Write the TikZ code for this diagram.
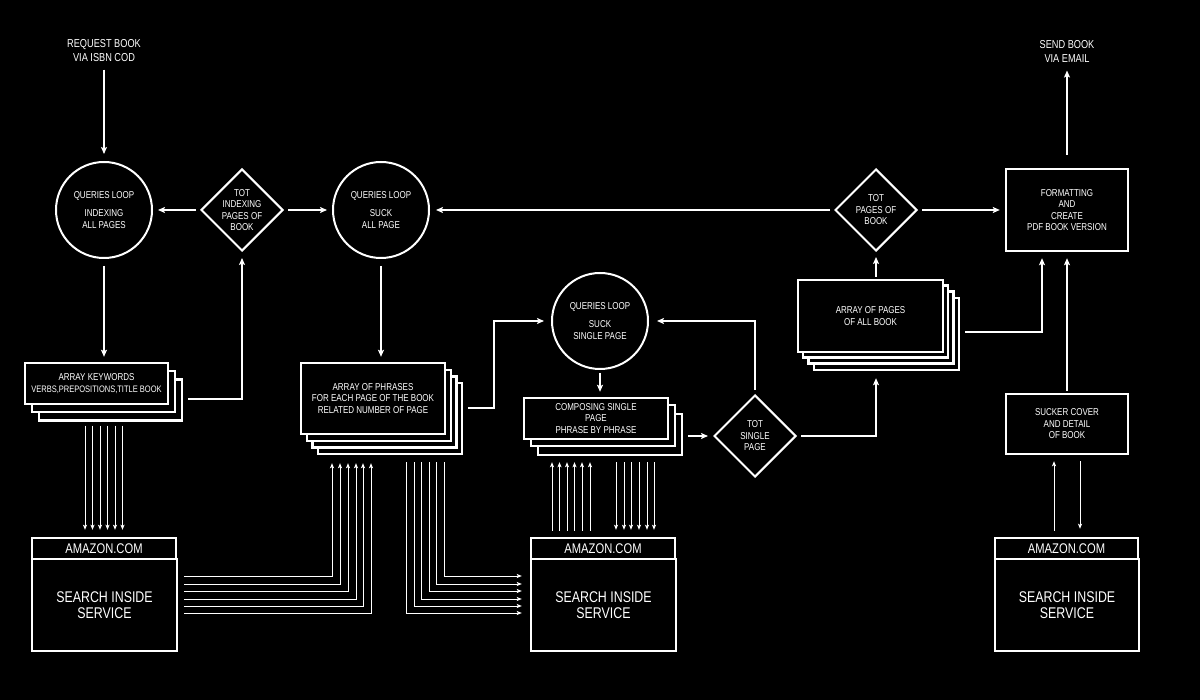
\documentclass[tikz,border=0pt]{standalone}
\usepackage{fontspec}
\setmainfont{Liberation Sans}[FakeStretch=0.8]
\usetikzlibrary{shapes.geometric,arrows.meta,calc}
\begin{document}
\begin{tikzpicture}[x=1pt,y=-1pt,
  every node/.style={text=white, font=\fontsize{10}{11.5}\selectfont, align=center},
  box/.style={draw=white, line width=2.4pt, fill=black, rectangle, inner sep=0pt},
  circ/.style={draw=white, line width=2pt, fill=black, circle, minimum size=96pt, inner sep=0pt},
  dia/.style={draw=white, line width=2pt, fill=black, diamond, minimum width=82pt, minimum height=82pt, inner sep=-4pt},
  lbl/.style={font=\fontsize{11.5}{14}\selectfont},
  big/.style={font=\fontsize{15.5}{16}\selectfont},
  hdr/.style={font=\fontsize{14}{16}\selectfont},
  conn/.style={draw=white, line width=2pt, -{Stealth[length=7pt,width=6pt,inset=1.5pt]}, shorten >=5pt, shorten <=4pt},
  tconn/.style={draw=white, line width=0.9pt, -{Stealth[length=5pt,width=4pt,inset=1pt]}, shorten >=6pt, shorten <=6pt},
]
\useasboundingbox (0,0) rectangle (1200,700);
\fill[black] (0,0) rectangle (1200,700);

% top labels
\node[lbl] (req) at (104,51) {REQUEST BOOK\\VIA ISBN COD};
\node[lbl] (send) at (1067,51) {SEND BOOK\\VIA EMAIL};

% circles
\node[circ] (c1) at (104,210) {QUERIES LOOP\\[7pt]INDEXING\\ALL PAGES};
\node[circ] (c2) at (381,210) {QUERIES LOOP\\[7pt]SUCK\\ALL PAGE};
\node[circ] (c3) at (600,321) {QUERIES LOOP\\[7pt]SUCK\\SINGLE PAGE};

% diamonds
\node[dia] (d1) at (242,210) {TOT\\INDEXING\\PAGES OF\\BOOK};
\node[dia] (d2) at (876,210) {TOT\\PAGES OF\\BOOK};
\node[dia] (d3) at (755,436) {TOT\\SINGLE\\PAGE};

% rectangles
\node[box, minimum width=122pt, minimum height=82pt] (fmt) at (1067,210) {FORMATTING\\AND\\CREATE\\PDF BOOK VERSION};
\node[box, minimum width=122pt, minimum height=60pt] (suck) at (1067,424) {SUCKER COVER\\AND DETAIL\\OF BOOK};

% stack: keywords
\node[box, minimum width=143pt, minimum height=41pt] (kwb2) at (110.5,400) {};
\node[box, minimum width=143pt, minimum height=41pt] (kwb1) at (103.5,391.5) {};
\node[box, minimum width=143pt, minimum height=41pt] (kw) at (96.5,383.5) {ARRAY KEYWORDS\\{\fontsize{9.4}{11.5}\selectfont VERBS,PREPOSITIONS,TITLE BOOK}};

% stack: phrases
\node[box, minimum width=144pt, minimum height=71pt] (phb3) at (390,418.5) {};
\node[box, minimum width=144pt, minimum height=71pt] (phb2) at (384.5,412) {};
\node[box, minimum width=144pt, minimum height=71pt] (phb1) at (379,405.5) {};
\node[box, minimum width=144pt, minimum height=71pt] (ph) at (373,398.5) {ARRAY OF PHRASES\\FOR EACH PAGE OF THE BOOK\\RELATED NUMBER OF PAGE};

% stack: composing
\node[box, minimum width=144pt, minimum height=41pt] (cpb2) at (610,434.5) {};
\node[box, minimum width=144pt, minimum height=41pt] (cpb1) at (603,425.5) {};
\node[box, minimum width=144pt, minimum height=41pt] (cp) at (596,418.5) {COMPOSING SINGLE\\PAGE\\PHRASE BY PHRASE};

% stack: pages
\node[box, minimum width=145pt, minimum height=72pt] (pgb3) at (886.5,334) {};
\node[box, minimum width=145pt, minimum height=72pt] (pgb2) at (881,327.5) {};
\node[box, minimum width=145pt, minimum height=72pt] (pgb1) at (875.5,321.5) {};
\node[box, minimum width=145pt, minimum height=72pt] (pg) at (870.5,316) {ARRAY OF PAGES\\OF ALL BOOK};

% amazon boxes
\node[box, big, minimum width=145pt, minimum height=92pt] (am1) at (104.5,605) {SEARCH INSIDE\\SERVICE};
\node[box, hdr, minimum width=144pt, minimum height=21pt] (am1h) at (104,548.5) {AMAZON.COM};
\node[box, big, minimum width=145pt, minimum height=92pt] (am2) at (603.5,605) {SEARCH INSIDE\\SERVICE};
\node[box, hdr, minimum width=144pt, minimum height=21pt] (am2h) at (603,548.5) {AMAZON.COM};
\node[box, big, minimum width=144pt, minimum height=92pt] (am3) at (1067,605) {SEARCH INSIDE\\SERVICE};
\node[box, hdr, minimum width=143pt, minimum height=21pt] (am3h) at (1066.5,548.5) {AMAZON.COM};

% thick connectors
\draw[conn, shorten >=7pt] (req) -- (c1);
\draw[conn] (d1) -- (c1);
\draw[conn] (d1) -- (c2);
\draw[conn, shorten <=7pt] (c1.south) -- (c1.south |- kw.north);
\draw[conn, shorten <=7pt] (c2.south) -- (c2.south |- ph.north);
\draw[conn, shorten <=5pt, shorten >=6pt] (kwb2.east |- 0,399) -| (d1.south);
\draw[conn, shorten <=5pt, shorten >=7pt] (phb3.east |- 0,408) -| (494,380) |- (c3.west);
\draw[conn, shorten >=6pt] (d2) -- (c2);
\draw[conn] (d2) -- (fmt);
\draw[conn, shorten <=13pt] (fmt) -- (send);
\draw[conn, shorten <=3pt] (c3.south) -- (c3.south |- cp.north);
\draw[conn, shorten <=5pt] (cpb2.east |- d3.west) -- (d3.west);
\draw[conn, shorten >=8pt] (d3.north) |- (c3.east);
\draw[conn, shorten >=7pt] (d3.east) -| (d2.south |- pgb3.south);
\draw[conn, shorten <=2pt] (pg.north -| d2.south) -- (d2.south);
\draw[conn, shorten <=5pt, shorten >=6pt] (pgb3.east |- 0,332) -| ($(fmt.south)+(-25,0)$);
\draw[conn, shorten <=2pt, shorten >=6pt] (suck) -- (fmt);

% thin bundles
\foreach \x in {85,92.5,100,107.5,115,122.5}
  \draw[tconn, shorten <=4pt, shorten >=7pt] (\x,0 |- kwb2.south) -- (\x,0 |- am1h.north);
\foreach \x/\y in {332/576,340/584,348/591,356/599,363/606,371/613}
  \draw[tconn, shorten >=8pt] (am1.east |- 0,\y) -| (\x,0 |- phb3.south);
\foreach \x/\y in {444/576,436/584,429/591,421/599,414/606,406/613}
  \draw[tconn, shorten <=7pt, shorten >=8pt] (\x,0 |- phb3.south) |- (am2.west |- 0,\y);
\foreach \x in {552,559.5,567,574.5,582,590}
  \draw[tconn] (\x,0 |- am2h.north) -- (\x,0 |- cpb2.south);
\foreach \x in {616,624,631,639,647,654}
  \draw[tconn, shorten >=7pt] (\x,0 |- cpb2.south) -- (\x,0 |- am2h.north);
\draw[tconn] (1054,0 |- am3h.north) -- (1054,0 |- suck.south);
\draw[tconn, shorten >=8pt] (1080,0 |- suck.south) -- (1080,0 |- am3h.north);
\end{tikzpicture}
\end{document}
